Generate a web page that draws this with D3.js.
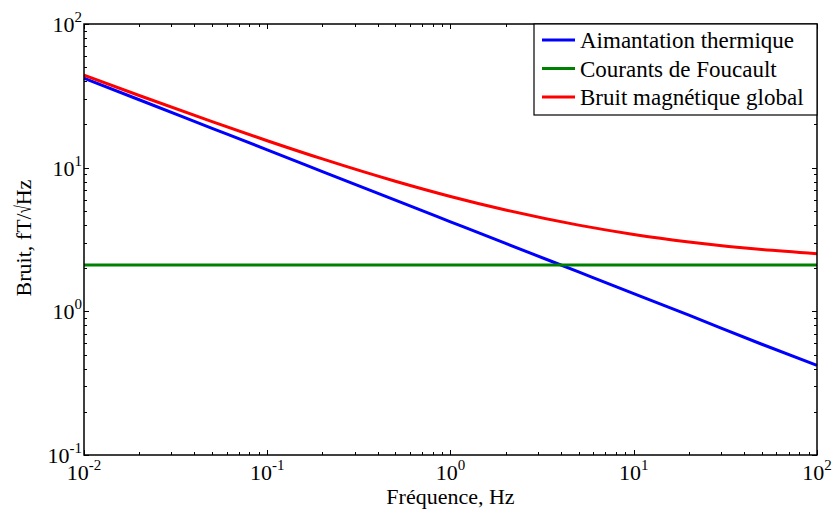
<!DOCTYPE html>
<meta charset="utf-8">
<head>
<script src="https://d3js.org/d3.v7.min.js"></script>
<style>
  body { margin: 0; background: #fff; }
  text { font-family: "Liberation Serif", "Times New Roman", serif; fill: #000; }
</style>
</head>
<body>
<div id="chart"></div>
<script>

var width = 832, height = 509;
var margin = {left: 84, right: 15, top: 24, bottom: 54};

// frequencies (Hz) and noise values (fT/sqrt(Hz))
var freqs = [0.01, 0.02, 0.05, 0.1, 0.2, 0.5, 1, 2, 5, 10, 20, 50, 100];
var aimantation = [42, 29.7, 18.8, 13.3, 9.4, 5.94, 4.2, 2.97, 1.88, 1.33, 0.94, 0.59, 0.42];
var foucault = [2.1, 2.1, 2.1, 2.1, 2.1, 2.1, 2.1, 2.1, 2.1, 2.1, 2.1, 2.1, 2.1];
var global = [44.1, 31.8, 20.9, 15.4, 11.5, 8.04, 6.3, 5.07, 3.98, 3.43, 3.04, 2.69, 2.52];

var seriesNames = ["Aimantation thermique", "Courants de Foucault", "Bruit magnétique global"];
var seriesColors = ["#0000ff", "#008000", "#ff0000"];
var xExponents = [-2, -1, 0, 1, 2];
var yExponents = [-1, 0, 1, 2];

var series = [aimantation, foucault, global];

var svg = d3.select("#chart").append("svg")
  .attr("width", width)
  .attr("height", height);

var x = d3.scaleLog().domain([0.01, 100]).range([margin.left, width - margin.right]);
var y = d3.scaleLog().domain([0.1, 100]).range([height - margin.bottom, margin.top]);

var x0 = x.range()[0], x1 = x.range()[1];
var y0 = y.range()[0], y1 = y.range()[1];

// minor + major ticks (inward, on all four sides)
var xTicks = x.ticks();
var yTicks = y.ticks();
function isMajor(v) { return Math.abs(Math.log10(v) - Math.round(Math.log10(v))) < 1e-9; }

var tickG = svg.append("g").attr("stroke", "#000").attr("stroke-width", 1);
xTicks.forEach(function(v) {
  var len = isMajor(v) ? 5 : 3;
  var px = Math.round(x(v)) + 0.5;
  tickG.append("line").attr("x1", px).attr("x2", px).attr("y1", y0).attr("y2", y0 - len);
  tickG.append("line").attr("x1", px).attr("x2", px).attr("y1", y1).attr("y2", y1 + len);
});
yTicks.forEach(function(v) {
  var len = isMajor(v) ? 5 : 3;
  var py = Math.round(y(v)) + 0.5;
  tickG.append("line").attr("x1", x0).attr("x2", x0 + len).attr("y1", py).attr("y2", py);
  tickG.append("line").attr("x1", x1).attr("x2", x1 - len).attr("y1", py).attr("y2", py);
});

// lines
var line = d3.line()
  .x(function(d) { return x(d[0]); })
  .y(function(d) { return y(d[1]); })
  .curve(d3.curveMonotoneX);

series.forEach(function(vals, i) {
  svg.append("path")
    .datum(freqs.map(function(f, j) { return [f, vals[j]]; }))
    .attr("fill", "none")
    .attr("stroke", seriesColors[i])
    .attr("stroke-width", 3)
    .attr("d", line);
});

// frame
svg.append("rect")
  .attr("x", x0).attr("y", y1)
  .attr("width", x1 - x0).attr("height", y0 - y1)
  .attr("fill", "none").attr("stroke", "#000").attr("stroke-width", 1.5);

// tick labels
xExponents.forEach(function(e) {
  var t = svg.append("text")
    .attr("x", x(Math.pow(10, e)))
    .attr("y", 480)
    .attr("text-anchor", "middle")
    .style("font-size", "22px");
  t.append("tspan").text("10");
  t.append("tspan").attr("dy", -10).style("font-size", "15px").text(e < 0 ? "-" + (-e) : e);
});
yExponents.forEach(function(e) {
  var t = svg.append("text")
    .attr("x", 82)
    .attr("y", y(Math.pow(10, e)) + 8)
    .attr("text-anchor", "end")
    .style("font-size", "22px");
  t.append("tspan").text("10");
  t.append("tspan").attr("dy", -10).style("font-size", "15px").text(e < 0 ? "-" + (-e) : e);
});

// axis labels
svg.append("text")
  .attr("x", (x0 + x1) / 2)
  .attr("y", 504)
  .attr("text-anchor", "middle")
  .style("font-size", "22px")
  .text("Fréquence, Hz");

var yl = svg.append("text")
  .attr("transform", "translate(31,238) rotate(-90)")
  .attr("text-anchor", "middle")
  .style("font-size", "22px");
yl.append("tspan").text("Bruit, fT/");
yl.append("tspan").attr("textLength", 8).attr("lengthAdjust", "spacingAndGlyphs").text("\u221A");
yl.append("tspan").text("Hz");

// legend
var legend = svg.append("g");
legend.append("rect")
  .attr("x", 534).attr("y", y1)
  .attr("width", x1 - 534).attr("height", 91)
  .attr("fill", "#fff").attr("stroke", "#000").attr("stroke-width", 1.2);

seriesNames.forEach(function(name, i) {
  var ly = 40 + i * 28.5;
  legend.append("line")
    .attr("x1", 542).attr("x2", 575)
    .attr("y1", ly).attr("y2", ly)
    .attr("stroke", seriesColors[i]).attr("stroke-width", 3);
  legend.append("text")
    .attr("x", 580).attr("y", ly + 8)
    .style("font-size", "23px")
    .text(name);
});

</script>
</body>
